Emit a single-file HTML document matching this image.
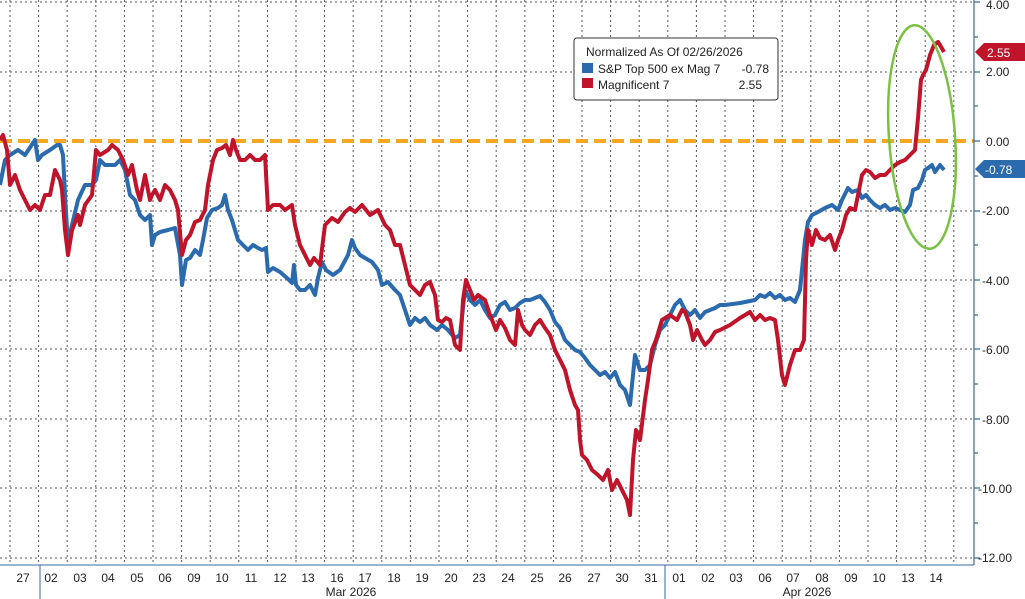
<!DOCTYPE html><html><head><style>body{margin:0;background:#fff}svg{display:block;font-family:"Liberation Sans",sans-serif}</style></head><body>
<svg width="1025" height="599" viewBox="0 0 1025 599">
<rect width="1025" height="599" fill="#fff"/>
<g stroke="#555" stroke-width="1" stroke-dasharray="2,3">
<path d="M10 0V565M38.6 0V565M67.2 0V565M95.8 0V565M124.4 0V565M153 0V565M181.6 0V565M210.2 0V565M238.8 0V565M267.4 0V565M296 0V565M324.6 0V565M353.2 0V565M381.8 0V565M410.4 0V565M439 0V565M467.6 0V565M496.2 0V565M524.8 0V565M553.4 0V565M582 0V565M610.6 0V565M639.2 0V565M667.8 0V565M696.4 0V565M725 0V565M753.6 0V565M782.2 0V565M810.8 0V565M839.4 0V565M868 0V565M896.6 0V565M925.2 0V565M953.8 0V565"/>
<path d="M0 2H974M0 72H974M0 211H974M0 280H974M0 349H974M0 419H974M0 488H974M0 558H974"/>
</g>
<line x1="0" y1="141" x2="974" y2="141" stroke="#f5a623" stroke-width="4" stroke-dasharray="12,6"/>
<polyline fill="none" stroke="#2a6aad" stroke-width="4" stroke-linejoin="round" points="0,185 5,160 10,155 18,150 25,155 35,140 38,160 42,155 50,150 57,145 60,145 63,155 65,195 68,245 72,225 78,200 85,185 92,185 96,180 100,160 105,165 115,165 120,160 125,170 130,195 135,200 140,215 145,220 150,215 152,245 155,235 160,232 168,230 175,228 180,255 182,285 186,260 190,258 195,250 200,255 203,240 207,218 212,210 218,208 222,205 225,195 228,210 232,220 238,240 243,245 248,250 253,245 258,248 262,250 266,248 268,272 273,268 280,272 287,278 292,283 294,265 296,285 300,290 305,290 310,285 315,295 318,278 322,262 326,270 333,275 340,270 348,255 352,240 355,248 360,255 365,258 372,262 378,270 382,285 388,282 395,290 400,295 405,310 410,325 415,318 420,322 425,318 430,325 437,330 442,325 448,330 455,338 460,335 465,290 470,300 475,305 480,300 485,310 490,318 495,315 500,305 505,302 510,310 515,308 520,303 525,300 530,300 535,298 540,296 545,302 550,310 555,322 560,328 565,340 570,345 575,350 580,352 585,358 590,365 595,370 600,375 605,372 610,378 615,372 620,385 625,390 630,405 635,355 640,370 645,370 650,365 655,345 660,330 665,325 670,315 675,305 680,300 685,310 690,315 695,310 700,318 705,312 710,310 715,308 720,305 725,305 740,303 755,300 760,295 765,297 770,293 775,298 780,295 785,300 790,298 795,302 800,290 805,240 808,222 812,215 818,212 825,208 832,205 838,210 842,200 848,188 852,192 858,190 862,198 866,195 870,200 875,205 880,208 885,205 890,210 895,208 900,210 905,212 910,205 913,190 918,188 922,180 925,170 928,168 932,165 935,172 940,165 944,170"/>
<polyline fill="none" stroke="#c0142b" stroke-width="4" stroke-linejoin="round" points="0,140 3,135 7,150 10,185 15,175 20,190 25,200 30,210 35,205 40,210 45,195 50,195 55,170 60,180 62,190 65,230 68,255 72,230 78,215 80,225 85,205 92,195 96,150 100,155 108,150 112,145 118,150 123,160 128,175 132,165 137,190 140,200 145,175 150,200 152,195 155,190 160,200 165,185 170,190 175,200 178,210 182,255 186,240 190,235 195,222 200,220 205,210 208,185 213,160 217,150 222,148 226,145 230,155 233,140 236,150 240,160 245,160 250,155 255,160 260,160 265,155 268,210 273,205 280,205 285,210 292,205 295,225 300,245 305,255 310,265 314,258 320,265 325,225 332,218 338,222 345,212 350,208 355,212 362,205 370,215 378,210 385,225 390,230 395,245 400,245 405,265 410,285 415,290 420,295 425,285 430,282 435,295 438,320 442,322 446,318 450,320 455,345 460,350 463,300 466,280 470,290 474,300 478,295 485,300 490,315 496,330 500,320 505,328 510,340 515,345 518,310 522,325 525,330 530,335 535,325 540,320 545,328 550,335 555,350 560,360 565,370 570,390 575,405 578,410 580,440 582,455 587,460 592,470 598,475 603,480 608,470 612,490 617,480 622,490 627,500 630,515 633,460 636,430 640,440 645,400 648,380 652,350 656,340 662,320 670,315 677,320 682,310 685,312 690,325 693,340 697,330 702,340 705,345 710,340 715,332 720,330 730,325 740,318 750,312 755,320 760,315 765,320 770,318 775,320 778,340 782,375 785,385 790,365 795,350 800,350 804,340 806,260 808,230 812,245 816,230 820,238 825,240 830,235 835,250 838,240 842,230 846,215 850,208 855,210 858,195 862,175 866,170 870,172 875,178 880,175 885,175 890,170 895,165 900,162 905,160 910,155 915,150 918,118 921,80 923,75 926,70 930,55 934,45 938,42 940,45 944,52"/>
<ellipse cx="922" cy="137" rx="33" ry="112" fill="none" stroke="#7ac143" stroke-width="2.5" transform="rotate(-4 922 137)"/>
<line x1="974" y1="0" x2="974" y2="565" stroke="#3a6a9a" stroke-width="1.2"/>
<g stroke="#3a6a9a" stroke-width="1.2"><path d="M974 2h6M974 37h4M974 72h6M974 106h4M974 141h6M974 176h4M974 211h6M974 245h4M974 280h6M974 315h4M974 349h6M974 384h4M974 419h6M974 453h4M974 488h6M974 523h4M974 558h6"/></g>
<g font-size="12" fill="#222"><text x="986" y="9">4.00</text><text x="986" y="76">2.00</text><text x="986" y="146">0.00</text><text x="982" y="215">-2.00</text><text x="982" y="285">-4.00</text><text x="982" y="354">-6.00</text><text x="982" y="424">-8.00</text><text x="978" y="493">-10.00</text><text x="978" y="562">-12.00</text></g>
<path d="M975 52L984 43H1025V61H984Z" fill="#c0142b"/><text x="987" y="57" font-size="12" fill="#fff">2.55</text>
<path d="M975 169L984 160H1025V178H984Z" fill="#2a6aad"/><text x="985" y="174" font-size="12" fill="#fff">-0.78</text>
<line x1="0" y1="565" x2="974" y2="565" stroke="#3a6a9a"/>
<line x1="40" y1="565" x2="40" y2="599" stroke="#3a6a9a"/><line x1="665" y1="565" x2="665" y2="599" stroke="#3a6a9a"/>
<g font-size="12" fill="#222" text-anchor="middle" font-family="DejaVu Sans Condensed,Liberation Sans Narrow,sans-serif" transform="scale(0.88 1)">
</g>
<g font-size="12" fill="#222" text-anchor="middle">
<text x="23" y="582">27</text><text x="51" y="582">02</text><text x="80" y="582">03</text><text x="108" y="582">04</text><text x="137" y="582">05</text><text x="165" y="582">06</text><text x="194" y="582">09</text><text x="222" y="582">10</text><text x="251" y="582">11</text><text x="280" y="582">12</text><text x="308" y="582">13</text><text x="337" y="582">16</text><text x="365" y="582">17</text><text x="394" y="582">18</text><text x="422" y="582">19</text><text x="451" y="582">20</text><text x="479" y="582">23</text><text x="508" y="582">24</text><text x="537" y="582">25</text><text x="565" y="582">26</text><text x="594" y="582">27</text><text x="622" y="582">30</text><text x="651" y="582">31</text><text x="679" y="582">01</text><text x="708" y="582">02</text><text x="736" y="582">03</text><text x="765" y="582">06</text><text x="793" y="582">07</text><text x="822" y="582">08</text><text x="851" y="582">09</text><text x="879" y="582">10</text><text x="908" y="582">13</text><text x="936" y="582">14</text>
<text x="351" y="596">Mar 2026</text><text x="807" y="596">Apr 2026</text></g>
<rect x="574" y="38" width="204" height="62" rx="3" fill="#fff" stroke="#333"/>
<g font-size="12" fill="#222"><text x="586" y="56">Normalized As Of 02/26/2026</text>
<rect x="582" y="63" width="11" height="10" fill="#2a6aad"/><text x="598" y="73">S&amp;P Top 500 ex Mag 7</text><text x="769" y="73" text-anchor="end">-0.78</text>
<rect x="582" y="78" width="11" height="10" fill="#c0142b"/><text x="598" y="89">Magnificent 7</text><text x="762" y="89" text-anchor="end">2.55</text></g>
</svg></body></html>
